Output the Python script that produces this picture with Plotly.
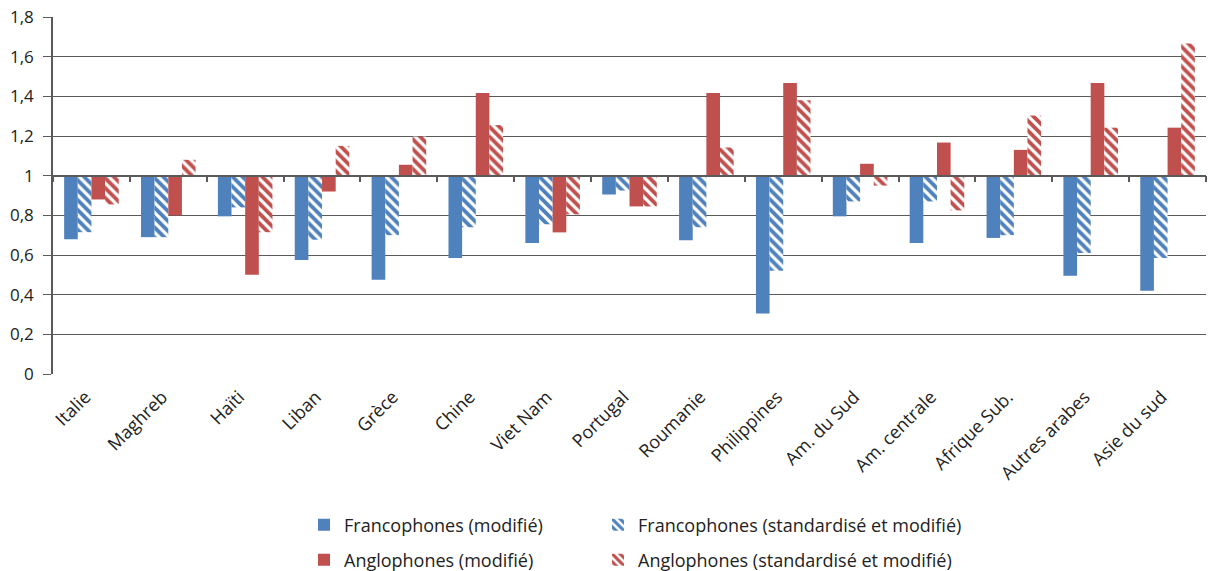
import plotly.graph_objects as go

categories = ["Italie", "Maghreb", "Haïti", "Liban", "Grèce", "Chine", "Viet Nam", "Portugal",
              "Roumanie", "Philippines", "Am. du Sud", "Am. centrale", "Afrique Sub.",
              "Autres arabes", "Asie du sud"]

franco_mod = [0.68, 0.69, 0.795, 0.575, 0.475, 0.585, 0.66, 0.905, 0.675, 0.305, 0.795, 0.66, 0.686, 0.495, 0.42]
franco_std = [0.715, 0.69, 0.84, 0.677, 0.70, 0.74, 0.755, 0.925, 0.74, 0.52, 0.87, 0.87, 0.70, 0.61, 0.585]
anglo_mod = [0.88, 0.80, 0.50, 0.92, 1.055, 1.417, 0.714, 0.845, 1.417, 1.467, 1.06, 1.167, 1.13, 1.467, 1.242]
anglo_std = [0.855, 1.08, 0.715, 1.15, 1.197, 1.255, 0.805, 0.845, 1.142, 1.38, 0.95, 0.825, 1.303, 1.242, 1.667]

names = ["Francophones (modifié)", "Francophones (standardisé et modifié)",
         "Anglophones (modifié)", "Anglophones (standardisé et modifié)"]
BASE = 1.0
BLUE = "#4F81BD"
RED = "#C0504D"

fig = go.Figure()

def add_bar(vals, name, color, striped, legend):
    marker = dict(color=color, line=dict(width=0))
    if striped:
        marker = dict(color="white", line=dict(width=0),
                      pattern=dict(shape="\\", fgcolor=color, bgcolor="white",
                                   size=7, solidity=0.55, fillmode="replace",
                                   fgopacity=1))
    fig.add_trace(go.Bar(x=categories, y=[v - BASE for v in vals], base=BASE,
                         name=name, marker=marker, legend=legend,
                         customdata=vals, hovertemplate="%{x}: %{customdata}<extra>" + name + "</extra>"))

add_bar(franco_mod, names[0], BLUE, False, "legend")
add_bar(franco_std, names[1], BLUE, True, "legend2")
add_bar(anglo_mod, names[2], RED, False, "legend3")
add_bar(anglo_std, names[3], RED, True, "legend4")

# helper invisible trace for the category axis drawn at y = 1
fig.add_trace(go.Scatter(x=categories, y=[None] * len(categories), xaxis="x2",
                         showlegend=False, hoverinfo="skip"))

GRID = "#5a5a5a"
FONT = "Open Sans"
TXT = "#222222"
W, H = 1209, 571
PLOT_L, PLOT_R, PLOT_T, PLOT_B = 53, 1206, 17, 374
PLOT_H = PLOT_B - PLOT_T
PLOT_W = PLOT_R - PLOT_L

def ly(px):
    return (PLOT_B - px) / PLOT_H

def lx(px):
    return (px - PLOT_L) / PLOT_W

def leg(xpx, ypx):
    return dict(orientation="h", x=lx(xpx), xanchor="left", y=ly(ypx), yanchor="top",
                font=dict(family=FONT, size=18, color=TXT),
                itemwidth=30, tracegroupgap=0, bgcolor="rgba(0,0,0,0)")

fig.update_layout(
    width=W, height=H,
    margin=dict(l=PLOT_L, r=W - PLOT_R, t=PLOT_T, b=H - PLOT_B, autoexpand=False),
    paper_bgcolor="white", plot_bgcolor="white",
    separators=", ",
    font=dict(family=FONT, size=18, color=TXT),
    barmode="group", bargap=0.29, bargroupgap=0,
    showlegend=True,
    xaxis=dict(type="category", categoryorder="array", categoryarray=categories,
               range=[-0.5, len(categories) - 0.5], automargin=False,
               tickangle=-45, showline=False, showgrid=False, ticks="",
               ticklabelstandoff=8, ticklabelshift=-6,
               tickfont=dict(family=FONT, size=18, color=TXT)),
    xaxis2=dict(type="category", categoryorder="array", categoryarray=categories,
                range=[-0.5, len(categories) - 0.5], overlaying="x", anchor="free",
                position=1 / 1.8, showticklabels=False, showline=True, linecolor=GRID,
                linewidth=1.5, ticks="outside", tickson="boundaries", ticklen=6,
                tickwidth=1.5, tickcolor=GRID, showgrid=False, zeroline=False,
                automargin=False),
    yaxis=dict(range=[0, 1.8], dtick=0.2, tick0=0, showgrid=True, gridcolor=GRID,
               gridwidth=1, showline=True, linecolor=GRID, linewidth=1.5,
               ticks="outside", ticklen=8, tickcolor=GRID, zeroline=False,
               tickformat=".1~f", automargin=False, ticklabeloverflow="allow",
               ticklabelstandoff=6,
               tickfont=dict(family=FONT, size=17, color=TXT)),
    legend=leg(304, 506.5),
    legend2=leg(598, 506.5),
    legend3=leg(304, 541.5),
    legend4=leg(598, 541.5),
)

# remove the default page margin so the 1209x571 figure fills the window exactly
fig.write_html("out.html", config={"displayModeBar": False},
               post_script="document.body.style.margin='0';document.body.style.overflow='hidden';")
